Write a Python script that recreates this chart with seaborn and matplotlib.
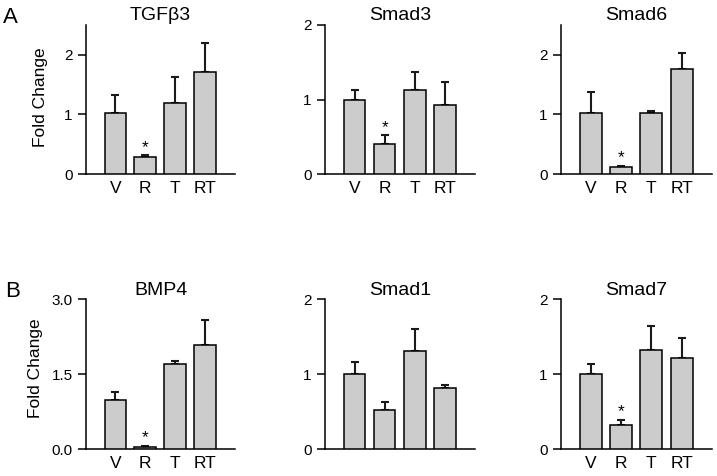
import numpy as np
import pandas as pd
import seaborn as sns
import matplotlib
matplotlib.use("Agg")
import matplotlib.pyplot as plt

# ---- data ----
groups = ["V", "R", "T", "RT"]

tgfb3_mean = [1.03, 0.29, 1.19, 1.71]
tgfb3_err = [0.30, 0.03, 0.44, 0.49]
smad3_mean = [1.00, 0.41, 1.13, 0.93]
smad3_err = [0.13, 0.11, 0.24, 0.30]
smad6_mean = [1.03, 0.12, 1.02, 1.76]
smad6_err = [0.35, 0.02, 0.04, 0.26]
bmp4_mean = [0.99, 0.05, 1.70, 2.09]
bmp4_err = [0.16, 0.02, 0.07, 0.50]
smad1_mean = [1.01, 0.52, 1.31, 0.82]
smad1_err = [0.15, 0.11, 0.29, 0.04]
smad7_mean = [1.01, 0.32, 1.33, 1.22]
smad7_err = [0.13, 0.07, 0.32, 0.26]

titles = ["TGF\u03b23", "Smad3", "Smad6", "BMP4", "Smad1", "Smad7"]
significant = [["R"], ["R"], ["R"], ["R"], [], ["R"]]
ylabel_text = "Fold Change"
panel_letters = ["A", "B"]

means = [tgfb3_mean, smad3_mean, smad6_mean, bmp4_mean, smad1_mean, smad7_mean]
errs = [tgfb3_err, smad3_err, smad6_err, bmp4_err, smad1_err, smad7_err]

# ---- style / layout ----
sns.set_theme(style="ticks")
plt.rcParams["font.family"] = ["Liberation Sans", "DejaVu Sans"]
plt.rcParams["text.color"] = "black"
plt.rcParams["axes.labelcolor"] = "black"
plt.rcParams["xtick.color"] = "black"
plt.rcParams["ytick.color"] = "black"
plt.rcParams["axes.edgecolor"] = "black"

W, H = 717, 476
fig = plt.figure(figsize=(W / 100, H / 100), dpi=100)

col_x = [(86, 149), (325, 150), (561, 151)]
row_y = [(24.7, 174.3), (299.3, 449.3)]

ylims = [2.5, 2.0, 2.5, 3.0, 2.0, 2.0]
yticks = [[0, 1, 2], [0, 1, 2], [0, 1, 2], [0, 1.5, 3.0], [0, 1, 2], [0, 1, 2]]
yticklabels = [["0", "1", "2"], ["0", "1", "2"], ["0", "1", "2"],
               ["0.0", "1.5", "3.0"], ["0", "1", "2"], ["0", "1", "2"]]
show_xlabels = [True, True, True, True, False, True]
title_pad = [3.2, 3.2, 3.2, 0.8, 0.8, 0.8]

for i in range(6):
    r, c = divmod(i, 3)
    x0, w = col_x[c]
    top, bot = row_y[r]
    ax = fig.add_axes([x0 / W, 1 - bot / H, w / W, (bot - top) / H])
    df = pd.DataFrame({"group": groups, "value": means[i]})
    sns.barplot(data=df, x="group", y="value", color="#cccccc", saturation=1,
                edgecolor="black", linewidth=1.1, width=0.72, errorbar=None,
                ax=ax, zorder=3)
    centers = [p.get_x() + p.get_width() / 2 for p in ax.patches]
    ax.errorbar(centers, means[i], yerr=[np.zeros(4), errs[i]], fmt="none",
                ecolor="#1a1a1a", elinewidth=1.5, capsize=3, capthick=1.5,
                zorder=2)
    for g in significant[i]:
        k = groups.index(g)
        ax.annotate("*", (centers[k], means[i][k] + errs[i][k]),
                    xytext=(0, 2.5), textcoords="offset points",
                    ha="center", va="baseline", fontsize=12.5, color="black")
    ax.set_xlim(-0.98, 4.0)
    ax.set_ylim(0, ylims[i])
    ax.set_yticks(yticks[i])
    ax.set_yticklabels(yticklabels[i])
    ax.set_xlabel("")
    ax.set_ylabel("")
    sns.despine(ax=ax)
    for s in ["left", "bottom"]:
        ax.spines[s].set_linewidth(1.1)
        ax.spines[s].set_color("black")
    ax.tick_params(axis="y", length=5.5, width=1.1, pad=4, labelsize=11,
                   colors="black")
    ax.tick_params(axis="x", length=0, pad=5, labelsize=12.5, colors="black")
    if not show_xlabels[i]:
        ax.set_xticklabels([])
    ax.set_title(titles[i], fontsize=14, pad=title_pad[i], color="black")
    ax.set_facecolor("white")
    if c == 0:
        ax.set_ylabel(ylabel_text, fontsize=12.5, color="black")
        ax.yaxis.set_label_coords(-0.255 if r == 0 else -0.29,
                                  0.518 if r == 0 else 0.54)

fig.text(3 / W, 1 - 23 / H, panel_letters[0], fontsize=16, va="baseline", ha="left")
fig.text(5 / W, 1 - 297 / H, panel_letters[1], fontsize=16, va="baseline", ha="left")

fig.savefig("out.png", dpi=100, facecolor="white")
